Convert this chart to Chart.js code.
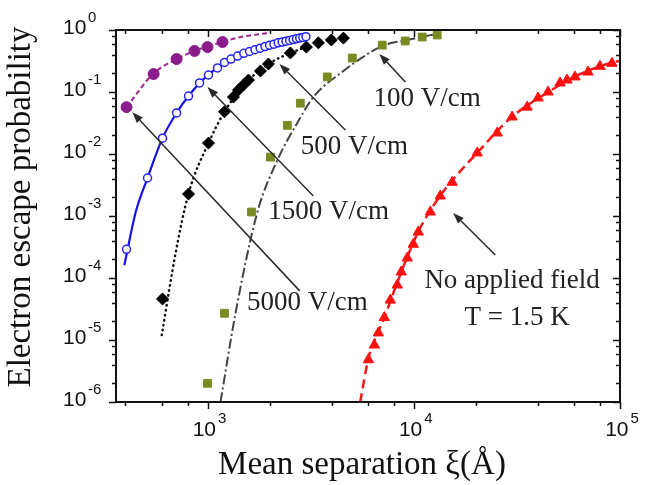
<!DOCTYPE html>
<html>
<head>
<meta charset="utf-8">
<script src="https://cdn.jsdelivr.net/npm/chart.js@4.4.1/dist/chart.umd.min.js"></script>
<style>
    html, body { margin: 0; padding: 0; background: #fff; }
    #wrap { width: 645px; height: 485px; }
</style>
</head>
<body>
<div id="wrap"><canvas id="escapeChart" width="645" height="485"></canvas></div>
<script>
const x5000 = [405, 548, 708, 865, 1000, 1182];
const y5000 = [0.057, 0.195, 0.34, 0.46, 0.53, 0.64];
const fitX5000 = [405, 548, 708, 865, 1000, 1180, 1450, 1950];
const fitY5000 = [0.057, 0.2, 0.34, 0.46, 0.54, 0.64, 0.77, 0.89];

const x1500 = [405, 512, 605, 708, 809, 915, 1011, 1118, 1209, 1300, 1400, 1500, 1600, 1700, 1800, 1900, 2000,
    2100, 2200, 2300, 2400, 2500, 2600, 2700, 2800, 2900, 3000];
const y1500 = [2.9e-4, 4.1e-3, 0.018, 0.046, 0.086, 0.14, 0.188, 0.244, 0.30, 0.34, 0.38, 0.42, 0.45, 0.48, 0.51,
    0.54, 0.57, 0.59, 0.62, 0.64, 0.66, 0.68, 0.70, 0.72, 0.74, 0.76, 0.78];
const fitX1500 = [395, 450, 512, 605, 708, 809, 1000, 1500, 2000, 3000];
const fitY1500 = [1.6e-4, 1.2e-3, 4.1e-3, 0.018, 0.046, 0.086, 0.185, 0.42, 0.57, 0.78];

const x500 = [605, 809, 1011, 1209, 1336, 1413, 1494, 1580, 1806, 1974, 2523, 3015, 3448, 3985, 4560];
const y500 = [4.6e-5, 2.26e-3, 0.015, 0.048, 0.083, 0.108, 0.13, 0.156, 0.218, 0.283, 0.426, 0.53, 0.62, 0.69, 0.74];
const fitX500 = [600, 700, 809, 1011, 1209, 1500, 2000, 2500, 3000];
const fitY500 = [1.2e-5, 2.5e-4, 2.3e-3, 0.015, 0.048, 0.13, 0.29, 0.42, 0.53];

const x100 = [1000, 1209, 1634, 2019, 2438, 2819, 3808, 5035, 7035, 9096, 10990, 12990];
const y100 = [2.0e-6, 2.7e-5, 1.16e-3, 8.9e-3, 0.029, 0.066, 0.175, 0.353, 0.57, 0.665, 0.77, 0.83];
const fitX100 = [1156, 1367, 1746, 2183, 2729, 3260, 4404, 7035, 9310, 13440];
const fitY100 = [1e-6, 2.7e-5, 1.16e-3, 8e-3, 0.032, 0.083, 0.2, 0.55, 0.69, 0.89];

const x0 = [6026, 6443, 6735, 7199, 7698, 8318, 8693, 9303, 9948, 10520, 12030, 13440, 15360, 20300, 25380,
    29980, 35450, 40080, 44790, 51200, 55350, 60510, 69950, 79980, 91400];
const y0 = [4.8e-6, 8.3e-6, 1.3e-5, 2.3e-5, 4.4e-5, 7.7e-5, 1.25e-4, 2.1e-4, 3.5e-4, 5.5e-4, 1.16e-3, 2.1e-3,
    3.5e-3, 0.0104, 0.0218, 0.0395, 0.057, 0.08, 0.10, 0.14, 0.156, 0.175, 0.21, 0.26, 0.29];
const fitX0 = [5500, 6026, 7200, 8700, 10500, 13400, 20300, 30000, 45000, 60000, 80000, 100000];
const fitY0 = [1e-6, 5e-6, 2.3e-5, 1.25e-4, 5.5e-4, 2.1e-3, 0.0104, 0.04, 0.1, 0.175, 0.26, 0.32];

// axis ticks
const xMajor = [1e3, 1e4, 1e5];
const xMinor = [400, 600, 800, 2000, 4000, 6000, 8000, 20000, 40000, 60000, 80000];
const xExp = ['3', '4', '5'];
const yMajor = [1, 0.1, 0.01, 1e-3, 1e-4, 1e-5, 1e-6];
const yExp = ['0', '-1', '-2', '-3', '-4', '-5', '-6'];
const yMinor = [0.8, 0.6, 0.4, 0.2, 0.08, 0.06, 0.04, 0.02, 8e-3, 6e-3, 4e-3, 2e-3, 8e-4, 6e-4, 4e-4, 2e-4,
    8e-5, 6e-5, 4e-5, 2e-5, 8e-6, 6e-6, 4e-6, 2e-6];

// labels with arrows (data coords: text centre, arrow tail, arrow tip)
const notes = [
    { text: ['100 V/cm'], at: [11600, 0.078], tail: [9100, 0.145], tip: [6810, 0.41] },
    { text: ['500 V/cm'], at: [5150, 0.0128], tail: [4660, 0.0244], tip: [2234, 0.283] },
    { text: ['1500 V/cm'], at: [3870, 1.16e-3], tail: [3260, 2.1e-3], tip: [1000, 0.12] },
    { text: ['5000 V/cm'], at: [3050, 3.9e-5], tail: [2800, 6.2e-5], tip: [432, 0.047] },
    { text: ['No applied field', 'T = 1.5 K'], at: [29980, 8.95e-5], tail: [24850, 2.35e-4], tip: [15520, 1.12e-3] }
];

const pts = (xs, ys) => xs.map((x, i) => ({ x, y: ys[i] }));

const marks = (data, style) => Object.assign({ data, showLine: false, order: 1 }, style);
const fit = (data, style) => Object.assign({
    data, showLine: true, pointRadius: 0, order: 2, cubicInterpolationMode: 'monotone', fill: false
}, style);

const framePlugin = {
    id: 'frame',
    afterDraw(chart) {
        const { ctx, chartArea: a } = chart;
        const xs = chart.scales.x, ys = chart.scales.y;
        ctx.save();
        ctx.strokeStyle = '#111';
        ctx.fillStyle = '#111';

        // ticks: bottom/left out, top/right in
        ctx.lineWidth = 1.5;
        const xt = (v, len) => {
            const px = Math.round(xs.getPixelForValue(v)) + 0.5;
            ctx.beginPath();
            ctx.moveTo(px, a.bottom); ctx.lineTo(px, a.bottom + len);
            ctx.moveTo(px, a.top); ctx.lineTo(px, a.top + len);
            ctx.stroke();
        };
        const yt = (v, len) => {
            const py = Math.round(ys.getPixelForValue(v)) + 0.5;
            ctx.beginPath();
            ctx.moveTo(a.left, py); ctx.lineTo(a.left - len, py);
            ctx.moveTo(a.right, py); ctx.lineTo(a.right - len, py);
            ctx.stroke();
        };
        xMajor.forEach(v => xt(v, 7));
        xMinor.forEach(v => xt(v, 4));
        yMajor.forEach(v => yt(v, 7));
        yMinor.forEach(v => yt(v, 4));

        ctx.lineWidth = 2;
        ctx.strokeRect(a.left, a.top, a.right - a.left, a.bottom - a.top);

        // tick labels 10^n
        ctx.textBaseline = 'middle';
        ctx.textAlign = 'left';
        xMajor.forEach((v, i) => {
            const px = xs.getPixelForValue(v);
            ctx.font = '21px "Liberation Sans", Arial, sans-serif';
            const w = ctx.measureText('10').width;
            ctx.font = '15px "Liberation Sans", Arial, sans-serif';
            const we = ctx.measureText(xExp[i]).width;
            const x0 = px - (w + 2 + we) / 2 + 2;
            ctx.font = '21px "Liberation Sans", Arial, sans-serif';
            ctx.fillText('10', x0, a.bottom + 28);
            ctx.font = '15px "Liberation Sans", Arial, sans-serif';
            ctx.fillText(xExp[i], x0 + w + 2, a.bottom + 17);
        });
        yMajor.forEach((v, i) => {
            const py = ys.getPixelForValue(v);
            ctx.font = '21px "Liberation Sans", Arial, sans-serif';
            ctx.fillText('10', 63, py - 2);
            ctx.font = '15px "Liberation Sans", Arial, sans-serif';
            ctx.fillText(yExp[i], 88, py - 12);
        });

        // axis titles
        ctx.font = '33px "Liberation Serif", "Times New Roman", serif';
        ctx.textAlign = 'center';
        ctx.fillText('Mean separation \u03BE(\u00C5)', 362, 465);
        ctx.save();
        ctx.translate(21, 207);
        ctx.rotate(-Math.PI / 2);
        ctx.fillText('Electron escape probability', 0, 0);
        ctx.restore();

        // notes and arrows
        ctx.strokeStyle = '#2a2a2a';
        ctx.fillStyle = '#2a2a2a';
        ctx.lineWidth = 1.5;
        notes.forEach(n => {
            const tx = xs.getPixelForValue(n.tail[0]), ty = ys.getPixelForValue(n.tail[1]);
            const hx = xs.getPixelForValue(n.tip[0]), hy = ys.getPixelForValue(n.tip[1]);
            const ang = Math.atan2(hy - ty, hx - tx);
            const hl = 11, hw = 4;
            const bx = hx - hl * Math.cos(ang), by = hy - hl * Math.sin(ang);
            ctx.beginPath();
            ctx.moveTo(tx, ty); ctx.lineTo(bx, by);
            ctx.stroke();
            ctx.beginPath();
            ctx.moveTo(hx, hy);
            ctx.lineTo(bx + hw * Math.sin(ang), by - hw * Math.cos(ang));
            ctx.lineTo(bx - hw * Math.sin(ang), by + hw * Math.cos(ang));
            ctx.closePath();
            ctx.fill();

            ctx.font = '27px "Liberation Serif", "Times New Roman", serif';
            ctx.fillStyle = '#222';
            const cx = xs.getPixelForValue(n.at[0]), cy = ys.getPixelForValue(n.at[1]);
            n.text.forEach((t, k) => ctx.fillText(t, cx + (k ? 5 : 0), cy + k * 37));
            ctx.fillStyle = '#2a2a2a';
        });
        ctx.restore();
    }
};

new Chart(document.getElementById('escapeChart').getContext('2d'), {
    type: 'scatter',
    data: {
        datasets: [
            fit(pts(fitX5000, fitY5000), { borderColor: '#a0288f', borderWidth: 2, borderDash: [5, 3] }),
            marks(pts(x5000, y5000), { pointStyle: 'circle', pointRadius: 5.5, backgroundColor: '#8b1c8b', borderColor: '#8b1c8b', borderWidth: 1 }),

            fit(pts(fitX1500, fitY1500), { borderColor: '#1414e6', borderWidth: 2.2 }),
            marks(pts(x1500, y1500), { pointStyle: 'circle', pointRadius: 4, backgroundColor: '#fff', borderColor: '#2424f0', borderWidth: 1.5 }),

            fit(pts(fitX500, fitY500), { borderColor: '#111', borderWidth: 2.5, borderDash: [0.5, 4.5], borderCapStyle: 'round' }),
            marks(pts(x500, y500), { pointStyle: 'rectRot', pointRadius: 6, backgroundColor: '#000', borderColor: '#000', borderWidth: 1 }),

            fit(pts(fitX100, fitY100), { borderColor: '#444', borderWidth: 2, borderDash: [10, 3, 2, 3] }),
            marks(pts(x100, y100), { pointStyle: 'rect', pointRadius: 5.5, backgroundColor: '#7a8a22', borderColor: '#7a8a22', borderWidth: 1 }),

            fit(pts(fitX0, fitY0), { borderColor: '#f01818', borderWidth: 2.5, borderDash: [9, 5] }),
            marks(pts(x0, y0), { pointStyle: 'triangle', pointRadius: 6, backgroundColor: '#ff1010', borderColor: '#ff1010', borderWidth: 1 })
        ]
    },
    options: {
        animation: false, responsive: false, devicePixelRatio: 1,
        layout: { padding: { left: 116, right: 25, top: 30, bottom: 83 } },
        plugins: { legend: { display: false }, tooltip: { enabled: false } },
        scales: {
            x: { type: 'logarithmic', min: 360, max: 100000, display: false },
            y: { type: 'logarithmic', min: 1e-6, max: 1, display: false }
        }
    },
    plugins: [framePlugin]
});
</script>
</body>
</html>
